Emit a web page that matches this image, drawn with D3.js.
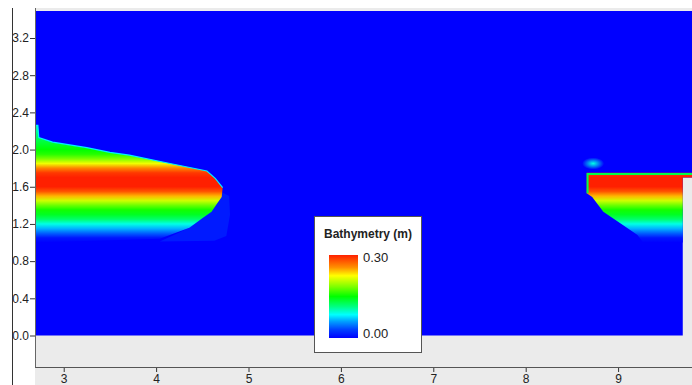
<!DOCTYPE html>
<html>
<head>
<meta charset="utf-8">
<script src="https://cdn.jsdelivr.net/npm/d3@7/dist/d3.min.js"></script>
<style>
body { margin:0; background:#fff; }
svg { display:block; font-family:"Liberation Sans", Arial, sans-serif; }
</style>
</head>
<body>
<div id="chart-area"></div>
<script>
// ticks
var xTicks = [3, 4, 5, 6, 7, 8, 9];
var yTicks = [0.0, 0.4, 0.8, 1.2, 1.6, 2.0, 2.4, 2.8, 3.2];
var zRange = [0.00, 0.30];

// bathymetry across the two bars (y in m -> depth in m)
var profileY = [1.00,1.05,1.10,1.15,1.20,1.25,1.30,1.35,1.40,1.45,1.50,1.55,1.60,1.65,1.70,1.75,1.80,1.85,1.90,1.95,2.00,2.05,2.10,2.15,2.20,2.25];
var profileZ = [0.00,0.01,0.04,0.065,0.09,0.12,0.14,0.155,0.18,0.21,0.245,0.28,0.30,0.30,0.30,0.29,0.26,0.22,0.185,0.16,0.15,0.14,0.13,0.12,0.11,0.10];

// wet domain outline
var domainX = [2.7, 9.7, 9.7, 9.8, 9.8, 2.7];
var domainY = [0.0, 0.0, 1.70, 1.70, 3.49, 3.49];

// left bar outline
var leftBarX = [2.70, 2.70, 2.72, 2.73, 2.88, 3.25, 3.50, 3.71, 4.15, 4.55, 4.64, 4.72, 4.71, 4.66, 4.60, 4.50, 4.36, 4.20, 4.04, 2.70];
var leftBarY = [1.00, 2.26, 2.26, 2.13, 2.08, 2.02, 1.97, 1.94, 1.85, 1.77, 1.69, 1.59, 1.49, 1.42, 1.33, 1.26, 1.16, 1.10, 1.04, 1.00];

// right bar outline
var rightBarX = [8.66, 9.80, 9.80, 9.70, 9.70, 9.27, 9.21, 9.02, 8.84, 8.72, 8.66];
var rightBarY = [1.75, 1.75, 1.70, 1.70, 1.00, 1.00, 1.08, 1.21, 1.33, 1.49, 1.53];

// shallow halo at the left bar tip
var haloX = [4.71, 4.79, 4.80, 4.76, 4.63, 4.04, 4.36, 4.66];
var haloY = [1.54, 1.50, 1.30, 1.07, 1.02, 1.01, 1.16, 1.42];
var haloZ = 0.012;

// small wet patch near right bar
var blobX = [8.73];
var blobY = [1.85];
var blobZ = [0.09];

var width = 692, height = 385;

var svg = d3.select("#chart-area").append("svg")
	.attr("width", width)
	.attr("height", height);

var x = d3.scaleLinear().domain([2.7, 9.8]).range([36, 692]);
var y = d3.scaleLinear().domain([0, 3.2]).range([335.5, 38]);

var color = d3.scaleLinear()
	.domain([0, 0.03, 0.06, 0.084, 0.114, 0.15, 0.186, 0.225, 0.255, 0.3])
	.range(["#0000ff","#0040ff","#00a0ff","#00ffff","#00ff80","#00ff00","#80ff00","#ffff00","#ff9000","#ff2000"])
	.clamp(true);

var defs = svg.append("defs");

// background
svg.append("rect").attr("x", 35).attr("y", 8).attr("width", width - 35).attr("height", height - 8).attr("fill", "#ebebeb");

var line = d3.line().x((d) => x(d[0])).y((d) => y(d[1]));
var poly = function(xs, ys) { return line(xs.map((v, i) => [v, ys[i]])) + "Z"; };

svg.append("path").attr("d", poly(domainX, domainY)).attr("fill", color(0));

svg.append("path").attr("d", poly(haloX, haloY)).attr("fill", color(haloZ));

// gradient for bar profile
var y1 = y(profileY[0]), y2 = y(profileY[profileY.length - 1]);
var grad = defs.append("linearGradient").attr("id", "bath")
	.attr("gradientUnits", "userSpaceOnUse")
	.attr("x1", 0).attr("x2", 0).attr("y1", y1).attr("y2", y2);
grad.selectAll("stop").data(profileY).enter().append("stop")
	.attr("offset", (d) => (y(d) - y1) / (y2 - y1))
	.attr("stop-color", (d, i) => color(profileZ[i]));

svg.append("path").attr("d", poly(leftBarX, leftBarY)).attr("fill", "url(#bath)");
svg.append("path").attr("d", poly(rightBarX, rightBarY)).attr("fill", "url(#bath)");

// wet/dry edges
svg.append("path")
	.attr("d", line(d3.range(1, 12).map((i) => [leftBarX[i], leftBarY[i]])))
	.attr("fill", "none").attr("stroke", color(0.08)).attr("stroke-width", 1.2);
svg.append("path")
	.attr("d", line([10, 0, 1].map((i) => [rightBarX[i] + (i == 1 ? 0 : 0.01), rightBarY[i] - (i == 10 ? 0 : 0.012)])))
	.attr("fill", "none").attr("stroke", color(0.13)).attr("stroke-width", 2);

// patch
var rg = defs.append("radialGradient").attr("id", "blob");
rg.append("stop").attr("offset", 0).attr("stop-color", color(blobZ[0]));
rg.append("stop").attr("offset", 1).attr("stop-color", color(0));
svg.selectAll(".blob").data(blobX).enter().append("ellipse")
	.attr("cx", (d) => x(d)).attr("cy", (d, i) => y(blobY[i]))
	.attr("rx", 11).attr("ry", 6).attr("fill", "url(#blob)");

// axes
var yAxis = svg.append("g").attr("transform", "translate(35,0)")
	.call(d3.axisLeft(y).tickValues(yTicks).tickFormat(d3.format(".1f")).tickSize(5).tickPadding(1).tickSizeOuter(0));
yAxis.select(".domain").remove();
var xAxis = svg.append("g").attr("transform", "translate(0,367)")
	.call(d3.axisBottom(x).tickValues(xTicks).tickFormat(d3.format("d")).tickSize(5).tickPadding(2).tickSizeOuter(0));
xAxis.select(".domain").remove();
svg.selectAll(".tick text").attr("font-size", 12).attr("font-family", "Liberation Sans, Arial, sans-serif").attr("fill", "#222");
svg.selectAll(".tick line").attr("stroke", "#333");

svg.append("line").attr("x1", 35).attr("x2", width).attr("y1", 367.5).attr("y2", 367.5).attr("stroke", "#555");
svg.append("line").attr("x1", 35.5).attr("x2", 35.5).attr("y1", 8).attr("y2", 367.5).attr("stroke", "#666");
svg.append("line").attr("x1", 12.5).attr("x2", 12.5).attr("y1", 8).attr("y2", height).attr("stroke", "#333");

// legend
var legend = svg.append("g");
legend.append("rect").attr("x", 314.5).attr("y", 216.5).attr("width", 107).attr("height", 136)
	.attr("fill", "#fff").attr("stroke", "#555");
legend.append("text").attr("x", 368).attr("y", 238).attr("text-anchor", "middle")
	.attr("font-size", 12).attr("font-weight", "bold").attr("fill", "#222").text("Bathymetry (m)");
var lz = d3.scaleLinear().domain(zRange).range([338, 255]);
var lg = defs.append("linearGradient").attr("id", "leg")
	.attr("x1", 0).attr("x2", 0).attr("y1", 1).attr("y2", 0);
lg.selectAll("stop").data(color.domain()).enter().append("stop")
	.attr("offset", (d) => d / zRange[1])
	.attr("stop-color", (d) => color(d));
legend.append("rect").attr("x", 329).attr("y", lz(zRange[1])).attr("width", 29)
	.attr("height", lz(zRange[0]) - lz(zRange[1])).attr("fill", "url(#leg)");
legend.selectAll(".lt").data(zRange).enter().append("text")
	.attr("x", 363).attr("y", (d) => d == zRange[1] ? lz(d) + 7 : lz(d))
	.attr("font-size", 13).attr("fill", "#222")
	.text((d) => d.toFixed(2));
</script>
</body>
</html>
